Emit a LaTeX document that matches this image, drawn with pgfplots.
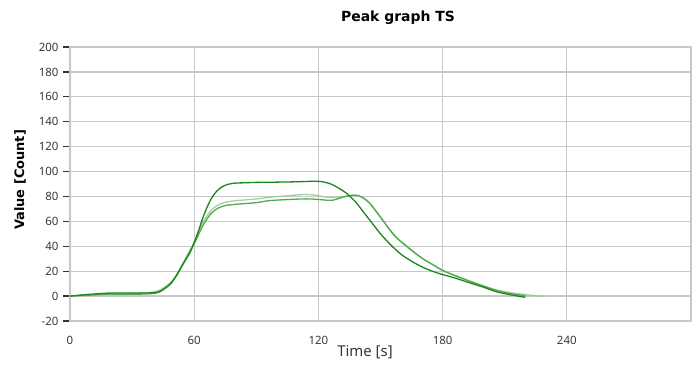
\documentclass[border=0pt]{standalone}
\usepackage{fontspec}
\setmainfont{Noto Sans}
\newfontfamily\boldfont{DejaVu Sans}
\usepackage{pgfplots}
\pgfplotsset{compat=1.18}
\usetikzlibrary{calc}
\definecolor{gridgray}{RGB}{200,200,200}
\definecolor{tickdark}{RGB}{50,50,50}
\definecolor{labgray}{RGB}{55,55,55}
\definecolor{gdark}{RGB}{25,135,25}
\definecolor{gmed}{RGB}{85,168,85}
\definecolor{glight}{RGB}{150,205,150}
\begin{document}
\begin{tikzpicture}
\begin{axis}[
  name=ax,
  scale only axis,
  width=621bp, height=274bp,
  xmin=0, xmax=300, ymin=-20, ymax=200,
  xtick={0,60,120,180,240},
  ytick={-20,0,20,...,200},
  ytick pos=left, xtick pos=bottom,
  grid=major,
  major grid style={gridgray, line width=1.3bp},
  axis line style={gridgray, line width=1.3bp},
  tick align=outside,
  major tick length=7bp,
  ytick style={tickdark, line width=1.3bp},
  xtick style={draw=none},
  /pgf/number format/assume math mode=true,
  tick label style={font=\fontsize{11.5}{13}\selectfont, text=labgray},
  xticklabel style={yshift=-5bp},
  yticklabel style={xshift=-1bp},
  xlabel={Time [s]},
  xlabel style={at={(axis description cs:0.475,0)}, anchor=center, yshift=-31bp, font=\fontsize{15}{17}\selectfont, text=labgray},
  ylabel={Value [Count]},
  ylabel style={at={(axis description cs:-0.0805,0.515)}, anchor=center, font=\boldfont\bfseries\fontsize{13}{15}\selectfont, text=black},
  clip=false,
]
\addplot[glight, line width=1.3bp, smooth, opacity=0.9] coordinates {
(0,0) (10,1) (20,2) (30,2.2) (38,2.8) (43,4.5) (48,10) (50,13.5) (52,18.5) (54,24.5) (56,31) (58,37) (60,43) (62,51) (64,58.5) (66,64) (68,68.5) (70,71.5) (72,73.5) (75,75.3) (80,76.6) (90,78) (96,79.3) (105,80.5) (112,81.5) (116,81.6) (120,80.5) (125,79.3) (130,79.5) (134,80.5) (138,81) (141,79.5) (145,74.5) (151,61.5) (157,48.5) (164,38.5) (170,30.5) (175,25.5) (180,21) (186,16.5) (193,12.2) (200,8.2) (206,5) (213,2.6) (220,1.2) (225,0.3) (229.5,-0.3)
};
\addplot[gmed, line width=1.3bp, smooth] coordinates {
(0,0) (10,0.8) (20,1.5) (30,1.5) (38,1.8) (43,3) (48,9) (50,13) (52,18) (54,24) (56,30) (58,36) (60,42) (62,49) (64,56) (66,61.5) (68,66) (70,69) (72,71) (75,72.7) (80,73.7) (90,75) (96,76.6) (105,77.5) (112,78) (116,78) (120,77.6) (124,77) (127,77) (130,78.5) (134,80.3) (138,81) (141,79.5) (145,74) (151,61) (157,48) (164,38) (170,30.5) (175,25.5) (180,20.5) (186,16.5) (193,12) (200,7.8) (206,4.5) (213,2) (220,0.3)
};
\addplot[gdark, line width=1.3bp, smooth] coordinates {
(0,0) (10,1.5) (20,2.5) (30,2.5) (38,2.5) (43,3.5) (48,9) (50,13) (52,18) (54,24) (56,29.5) (58,35) (60,43) (62,52) (64,62) (66,70.5) (68,77.5) (70,82.5) (72,86) (75,89) (79,90.6) (85,91) (90,91.3) (100,91.5) (110,91.8) (118,92.2) (122,91.8) (126,90) (130,86.5) (134,82) (138,75.5) (142,67) (146,58.5) (150,50) (155,41) (160,33.5) (165,28) (170,23.5) (175,20) (180,17.3) (186,14.5) (193,10.7) (200,7) (206,3.5) (213,1) (220,-1)
};
\end{axis}
\node[font=\boldfont\bfseries\fontsize{14}{16}\selectfont, anchor=center] at ($(ax.north west)+(328bp,29bp)$) {Peak graph TS};
\pgfresetboundingbox
\path ($(ax.south west)+(-70bp,-46bp)$) rectangle ($(ax.north east)+(9bp,47bp)$);
\end{tikzpicture}
\end{document}
